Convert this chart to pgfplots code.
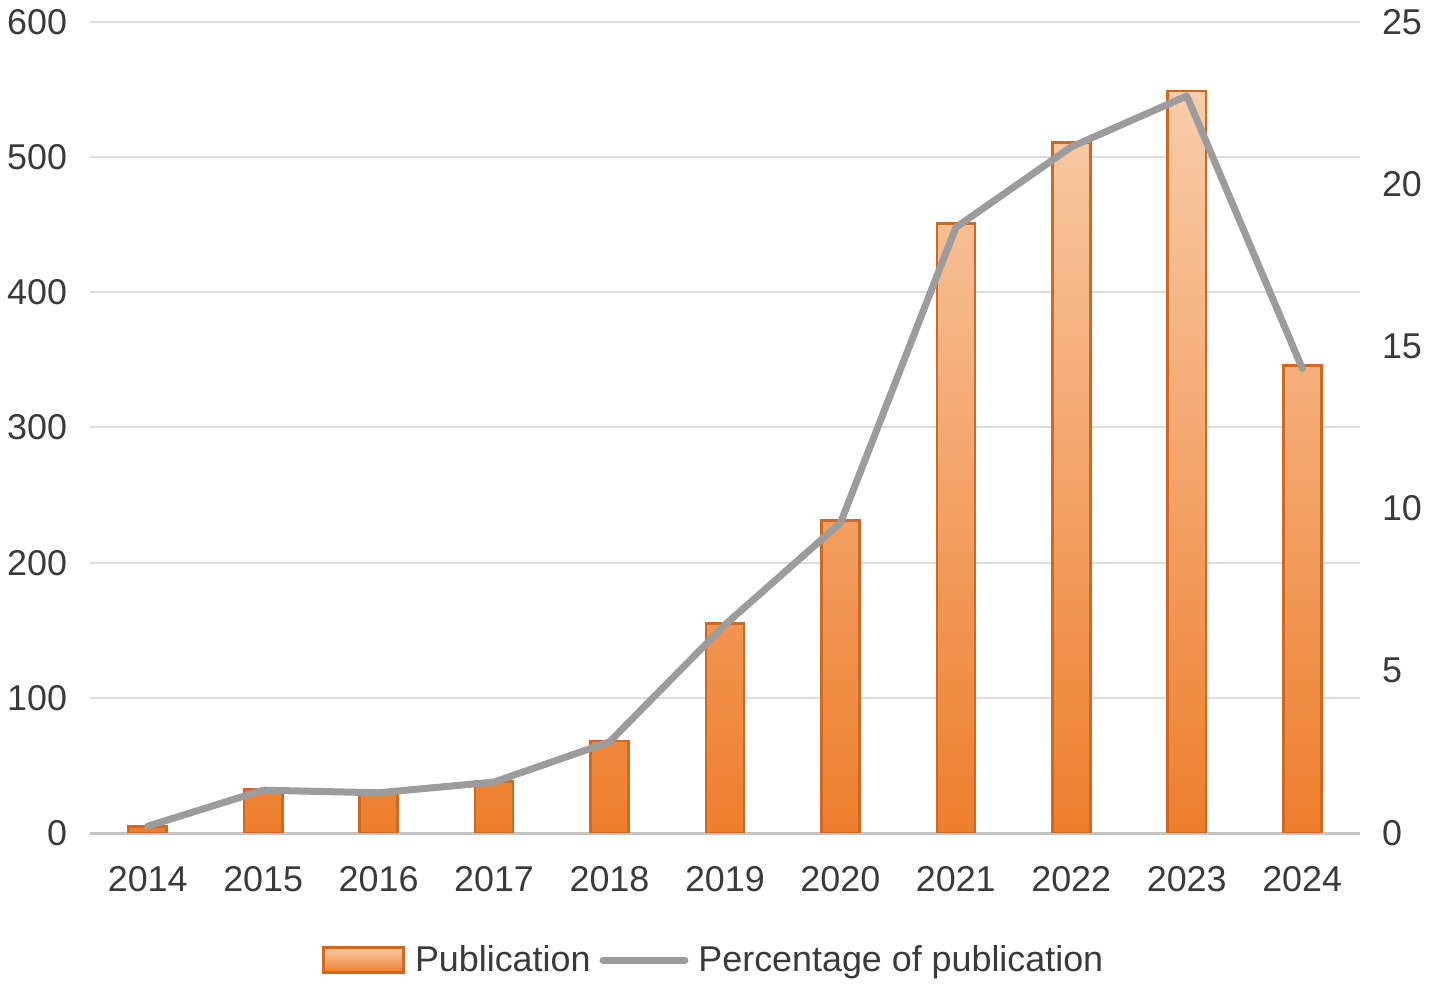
\documentclass[border=0pt]{standalone}
\usepackage{pgfplots}
\pgfplotsset{compat=1.18}
\usepackage{fontspec}
\setmainfont{Liberation Sans}
\definecolor{gridc}{HTML}{DCDCDC}
\definecolor{basec}{HTML}{C4C4C4}
\definecolor{bartop}{HTML}{F8CDAA}
\definecolor{barbot}{HTML}{EE7E2C}
\definecolor{baredge}{HTML}{CF6820}
\definecolor{linec}{HTML}{9C9C9C}
\definecolor{textc}{HTML}{3A3A3A}
\pgfplotstableread{
year pub pct
2014 5 0.21
2015 32 1.32
2016 30 1.24
2017 38 1.57
2018 68 2.81
2019 155 6.42
2020 231 9.56
2021 451 18.67
2022 511 21.15
2023 549 22.72
2024 346 14.32
}\datatable
\begin{document}
\begin{tikzpicture}
\pgfplotsset{
  common/.style={
    scale only axis, width=635bp, height=405.5bp,
    xmin=2013.5, xmax=2024.5,
    axis line style={draw=none}, tick style={draw=none}, major tick length=0pt,
    /pgf/number format/assume math mode=true,
    /pgf/number format/1000 sep={},
    tick label style={font=\fontsize{18}{21}\selectfont, text=textc},
  }
}
\begin{axis}[common,
  ymin=0, ymax=600, ytick={0,100,...,600},
  xtick={2014,...,2024},
  ymajorgrids, grid style={color=gridc, line width=1bp},
  extra y ticks={0}, extra y tick labels={},
  extra y tick style={grid style={color=basec, line width=1.5bp}},
  yticklabel style={xshift=-8bp},
  xticklabel style={yshift=-13bp},
]
\addplot[ybar, bar width=0.33, draw=baredge, line width=1.3bp,
  top color=bartop, bottom color=barbot] table[x=year, y=pub] {\datatable};
\end{axis}
\begin{axis}[common,
  ymin=0, ymax=25, ytick={0,5,...,25},
  axis y line*=right, axis x line=none,
  yticklabel style={xshift=7.5bp, anchor=west},
  legend style={at={(0.492,-0.1566)}, anchor=center, draw=none, fill=none,
    legend columns=2, font=\fontsize{18}{21}\selectfont, text=textc,
    /tikz/every odd column/.append style={column sep=3bp},
    /tikz/every even column/.append style={column sep=2.5bp},
    legend cell align=left},
]
\addlegendimage{legend image code/.code={\draw[draw=baredge, line width=1.3bp, top color=bartop, bottom color=barbot] (0bp,-6.25bp) rectangle (40bp,6.25bp);}}
\addlegendentry{Publication}
\addplot[color=linec, line width=3.5bp, line join=round, line cap=round,
  legend image code/.code={\draw[color=linec, line width=3.5bp, line cap=round] (0bp,0bp) -- (41bp,0bp);}]
  table[x=year, y=pct] {\datatable};
\addlegendentry{Percentage of publication}
\end{axis}
\useasboundingbox (-45bp,-78bp) rectangle (670bp,416.5bp);
\end{tikzpicture}
\end{document}
